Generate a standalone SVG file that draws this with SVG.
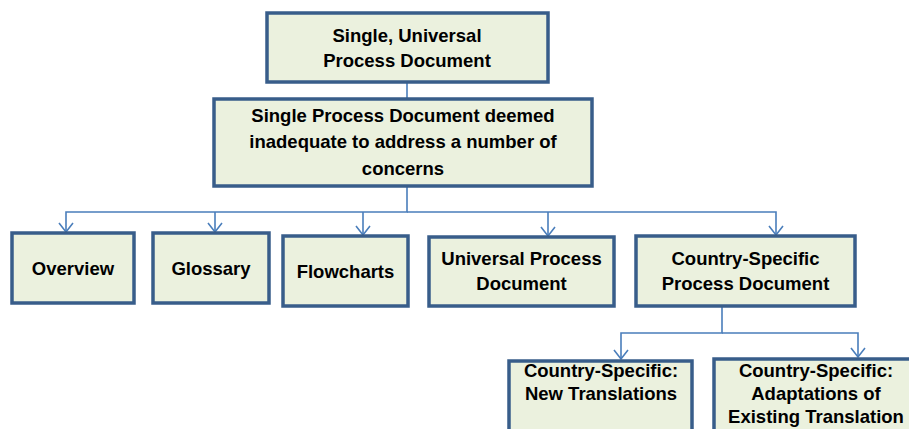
<svg xmlns="http://www.w3.org/2000/svg" width="909" height="429" viewBox="0 0 909 429">
<style>
.box{fill:#ebf1de;stroke:#385d8a;stroke-width:3.5}
.t{font-family:"Liberation Sans",Arial,sans-serif;font-weight:bold;font-size:18.5px;fill:#000;text-anchor:middle}
.c{fill:none;stroke:#4a7ebb;stroke-width:1.6}
</style>
<defs>
<marker id="arr" markerWidth="20" markerHeight="20" refX="10" refY="10" orient="auto" markerUnits="userSpaceOnUse">
<path d="M1,3 L10,10 L1,17" fill="none" stroke="#4a7ebb" stroke-width="1.6"/>
</marker>
</defs>
<rect width="909" height="429" fill="#fff"/>
<g id="connectors">
<path class="c" d="M407,82 V99"/>
<path class="c" d="M407,186 V212 H66 V232" marker-end="url(#arr)"/>
<path class="c" d="M215,212 V232" marker-end="url(#arr)"/>
<path class="c" d="M363,212 V235" marker-end="url(#arr)"/>
<path class="c" d="M407,212 H776 V235" marker-end="url(#arr)"/>
<path class="c" d="M548,212 V236" marker-end="url(#arr)"/>
<path class="c" d="M722,306 V333 H621 V359" marker-end="url(#arr)"/>
<path class="c" d="M722,333 H858 V357" marker-end="url(#arr)"/>
</g>
<g id="n1"><rect class="box" x="267" y="13" width="281" height="69"/>
<text class="t" x="407" y="42">Single, Universal</text><text class="t" x="407" y="67">Process Document</text></g>
<g id="n2"><rect class="box" x="214" y="99" width="378" height="87"/>
<text class="t" x="403" y="122">Single Process Document deemed</text>
<text class="t" x="403" y="148">inadequate to address a number of</text>
<text class="t" x="403" y="175">concerns</text></g>
<g id="n3"><rect class="box" x="12" y="233" width="122" height="70"/><text class="t" x="73" y="275">Overview</text></g>
<g id="n4"><rect class="box" x="153" y="233" width="116" height="70"/><text class="t" x="211" y="275">Glossary</text></g>
<g id="n5"><rect class="box" x="283" y="236" width="125" height="70"/><text class="t" x="345.5" y="278">Flowcharts</text></g>
<g id="n6"><rect class="box" x="429" y="237" width="185" height="69"/>
<text class="t" x="521.5" y="265">Universal Process</text><text class="t" x="521.5" y="290">Document</text></g>
<g id="n7"><rect class="box" x="636" y="236" width="219" height="70"/>
<text class="t" x="745.5" y="265">Country-Specific</text><text class="t" x="745.5" y="290">Process Document</text></g>
<g id="n8"><rect class="box" x="509" y="361" width="183" height="80"/>
<text class="t" x="601" y="377">Country-Specific:</text><text class="t" x="601" y="400">New Translations</text></g>
<g id="n9"><rect class="box" x="714" y="359" width="204" height="82"/>
<text class="t" x="816" y="377">Country-Specific:</text><text class="t" x="816" y="400">Adaptations of</text><text class="t" x="816" y="423">Existing Translation</text></g>
</svg>
